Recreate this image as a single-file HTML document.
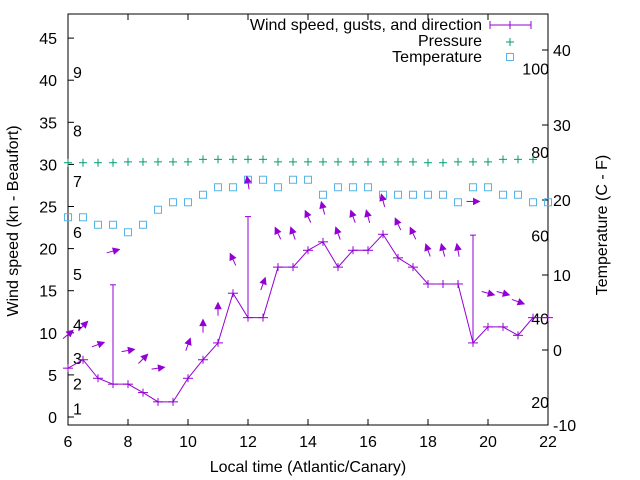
<!DOCTYPE html>
<html><head><meta charset="utf-8"><style>
body{margin:0;background:#fff}
svg{display:block;font-family:"Liberation Sans",sans-serif}
</style></head><body>
<svg id="c" width="640" height="480" viewBox="0 0 640 480" xmlns="http://www.w3.org/2000/svg"></svg>
<script>
const hours=[6,6.5,7,7.5,8,8.5,9,9.5,10,10.5,11,11.5,12,12.5,13,13.5,14,14.5,15,15.5,16,16.5,17,17.5,18,18.5,19,19.5,20,20.5,21,21.5,22];
const windSpeed=[5.8,6.8,4.6,3.9,3.9,2.9,1.8,1.8,4.6,6.8,8.8,14.7,11.8,11.8,17.8,17.8,19.8,20.8,17.8,19.8,19.8,21.7,18.9,17.8,15.8,15.8,15.8,8.8,10.7,10.7,9.7,11.8,11.8];
const gustHours=[7.5,12,19.5];
const gustSpeed=[15.7,23.8,21.6];
const windDir=[40,45,20,15,10,45,8,null,70,90,90,115,100,70,115,110,115,105,110,110,105,105,115,115,110,105,100,0,-15,-15,-20,null,null];
const pressure=[30.2,30.2,30.2,30.2,30.3,30.3,30.3,30.3,30.3,30.6,30.6,30.6,30.6,30.6,30.3,30.3,30.3,30.3,30.3,30.3,30.3,30.3,30.3,30.3,30.2,30.2,30.3,30.3,30.3,30.6,30.6,30.6];
const temperature=[17.7,17.7,16.7,16.7,15.7,16.7,18.7,19.7,19.7,20.7,21.7,21.7,22.7,22.7,21.7,22.7,22.7,20.7,21.7,21.7,21.7,20.7,20.7,20.7,20.7,20.7,19.7,21.7,21.7,20.7,20.7,19.7,19.7];
const xTicks=[6,8,10,12,14,16,18,20,22];
const yTicks=[0,5,10,15,20,25,30,35,40,45];
const y2Ticks=[-10,0,10,20,30,40];
const fTicks=[20,40,60,80,100];
const bftLabels=["1","2","3","4","5","6","7","8","9"];
const bftPos=[1,4,7,11,17,22,28,34,41];

const L=68,R=548,T=14,B=425;
const FS=16;
const sx=h=>L+(h-6)*30;
const sy=v=>417-v*8.42;
const sy2=t=>425-(t+10)*7.5;
const NS="http://www.w3.org/2000/svg";
const svg=document.getElementById('c');
function mk(tag,attrs,parent){const e=document.createElementNS(NS,tag);for(const k in attrs)e.setAttribute(k,attrs[k]);(parent||svg).appendChild(e);return e;}
const P="#9400d3",G="#009e73",C="#56b4e9";

const frame=mk('rect',{x:L,y:T,width:R-L,height:B-T,fill:'none',stroke:'#000','stroke-width':1});



xTicks.forEach(h=>{
  const x=sx(h);
  mk('line',{x1:x,y1:B,x2:x,y2:B-6,stroke:'#000'});
  mk('line',{x1:x,y1:T,x2:x,y2:T+6,stroke:'#000'});
  const t=mk('text',{x:x,y:447,'text-anchor':'middle','font-size':FS});
  t.textContent=h;
  
  
});
yTicks.forEach(v=>{
  const y=sy(v);
  mk('line',{x1:L,y1:y,x2:L+6,y2:y,stroke:'#000'});
  const t=mk('text',{x:57,y:y+6,'text-anchor':'end','font-size':FS});
  t.textContent=v;
  
  
});
y2Ticks.forEach(v=>{
  const y=sy2(v);
  mk('line',{x1:R,y1:y,x2:R-6,y2:y,stroke:'#000'});
  const t=mk('text',{x:553,y:y+6,'text-anchor':'start','font-size':FS});
  t.textContent=v;
  
  
});
fTicks.forEach(f=>{
  const y=sy2((f-32)*5/9);
  const t=mk('text',{x:549,y:y+8,'text-anchor':'end','font-size':FS});
  t.textContent=f;
  
  
});
bftLabels.forEach((b,i)=>{
  const t=mk('text',{x:73,y:sy(bftPos[i])+6,'font-size':FS});
  t.textContent=b;
  
  
});

let t=mk('text',{x:308,y:472,'text-anchor':'middle','font-size':FS});
t.textContent='Local time (Atlantic/Canary)';


t=mk('text',{x:0,y:0,'text-anchor':'middle','font-size':FS,transform:'translate(18,221) rotate(-90)'});
t.textContent='Wind speed (kn - Beaufort)';


t=mk('text',{x:0,y:0,'text-anchor':'middle','font-size':FS,transform:'translate(607,225) rotate(-90)'});
t.textContent='Temperature (C - F)';



function plus(x,y,col,name){
  const g=mk('g',{stroke:col,'stroke-width':1});
  
  
  mk('line',{x1:x-4,y1:y,x2:x+4,y2:y},g);
  mk('line',{x1:x,y1:y-4,x2:x,y2:y+4},g);
}
function square(x,y,name){
  const r=mk('rect',{x:x-3.5,y:y-3.5,width:7,height:7,fill:'none',stroke:C,'stroke-width':1});
  
  
}

pressure.forEach((p,i)=>plus(sx(hours[i]),sy(p),G,'pressure-point'));
temperature.forEach((v,i)=>square(sx(hours[i]),sy2(v),'temperature-point'));

const wl=mk('polyline',{points:windSpeed.map((v,i)=>sx(hours[i])+','+sy(v)).join(' '),fill:'none',stroke:P,'stroke-width':1});


windSpeed.forEach((v,i)=>{
  const x=sx(hours[i]),y=sy(v);
  const g=mk('g',{stroke:P});
  
  
  mk('line',{x1:x-5,y1:y,x2:x+5,y2:y},g);
  mk('line',{x1:x,y1:y-4,x2:x,y2:y+4},g);
});
gustHours.forEach((h,i)=>{
  const x=sx(h);
  const wi=hours.indexOf(h);
  const g=mk('g',{stroke:P});
  
  
  mk('line',{x1:x,y1:sy(windSpeed[wi]),x2:x,y2:sy(gustSpeed[i])},g);
  mk('line',{x1:x-3,y1:sy(gustSpeed[i]),x2:x+3,y2:sy(gustSpeed[i])},g);
});
windDir.forEach((d,i)=>{
  if(d===null)return;
  const h=hours[i];
  const gi=gustHours.indexOf(h);
  const top=gi>=0?gustSpeed[gi]:windSpeed[i];
  const cx=sx(h),cy=sy(top+4);
  const a=d*Math.PI/180,dx=Math.cos(a),dy=-Math.sin(a);
  const len=13;
  const x1=cx-dx*len/2,y1=cy-dy*len/2,x2=cx+dx*len/2,y2=cy+dy*len/2;
  const g=mk('g',{});
  
  
  mk('line',{x1:x1,y1:y1,x2:x2,y2:y2,stroke:P,'stroke-width':1},g);
  const px=-dy,py=dx,hl=6,hw=3;
  const bx=x2-dx*hl,by=y2-dy*hl;
  mk('polygon',{points:`${x2},${y2} ${bx+px*hw},${by+py*hw} ${bx-px*hw},${by-py*hw}`,fill:P,stroke:P},g);
});

t=mk('text',{x:482,y:30,'text-anchor':'end','font-size':FS});
t.textContent='Wind speed, gusts, and direction';


const lg=mk('g',{stroke:P});


mk('line',{x1:490,y1:25,x2:531,y2:25},lg);
mk('line',{x1:490,y1:21,x2:490,y2:29},lg);
mk('line',{x1:531,y1:21,x2:531,y2:29},lg);
mk('line',{x1:510,y1:21,x2:510,y2:29},lg);
t=mk('text',{x:482,y:46,'text-anchor':'end','font-size':FS});
t.textContent='Pressure';


plus(510,42,G,'legend-pressure-sample');
t=mk('text',{x:482,y:62,'text-anchor':'end','font-size':FS});
t.textContent='Temperature';


square(510,57,'legend-temperature-sample');
</script>
</body></html>
